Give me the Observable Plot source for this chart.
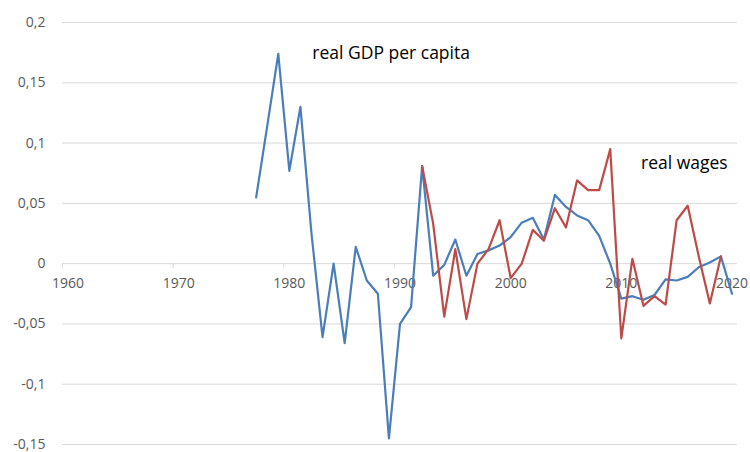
<!DOCTYPE html>
<html>
<head>
<meta charset="utf-8">
<script src="https://cdn.jsdelivr.net/npm/d3@7"></script>
<script src="https://cdn.jsdelivr.net/npm/@observablehq/plot@0.6"></script>
<style>
  html, body { margin: 0; padding: 0; background: #fff; }
  #chart { width: 750px; height: 452px; }
</style>
</head>
<body>
<div id="chart"></div>
<script>
const gdpYears = [1977,1978,1979,1980,1981,1982,1983,1984,1985,1986,1987,1988,1989,1990,1991,1992,1993,1994,1995,1996,1997,1998,1999,2000,2001,2002,2003,2004,2005,2006,2007,2008,2009,2010,2011,2012,2013,2014,2015,2016,2017,2018,2019,2020];
const gdpValues = [0.055,0.114,0.174,0.077,0.130,0.025,-0.061,0.000,-0.066,0.014,-0.014,-0.025,-0.145,-0.050,-0.036,0.081,-0.010,-0.001,0.020,-0.010,0.008,0.011,0.015,0.022,0.034,0.038,0.020,0.057,0.047,0.040,0.036,0.023,0.000,-0.029,-0.027,-0.030,-0.026,-0.013,-0.014,-0.011,-0.003,0.001,0.006,-0.025];

const wageYears = [1992,1993,1994,1995,1996,1997,1998,1999,2000,2001,2002,2003,2004,2005,2006,2007,2008,2009,2010,2011,2012,2013,2014,2015,2016,2017,2018,2019];
const wageValues = [0.081,0.033,-0.044,0.012,-0.046,0.000,0.012,0.036,-0.012,0.000,0.028,0.019,0.046,0.030,0.069,0.061,0.061,0.095,-0.062,0.004,-0.035,-0.027,-0.034,0.036,0.048,0.006,-0.033,0.006];

const yTicks = [-0.15,-0.1,-0.05,0,0.05,0.1,0.15,0.2];
const xTickLabels = [1960,1970,1980,1990,2000,2010,2020];

const labels = ["real GDP per capita", "real wages"];
const labelYears = [1989.2, 2015.7];
const labelValues = [0.1746, 0.0834];

const gdp = gdpYears.map((y, i) => ({year: y, value: gdpValues[i]}));
const wages = wageYears.map((y, i) => ({year: y, value: wageValues[i]}));
const notes = labels.map((t, i) => ({text: t, year: labelYears[i], value: labelValues[i]}));

const gridColor = "#d9d9d9";
const textColor = "#595959";

const chart = Plot.plot({
  width: 750,
  height: 452,
  marginLeft: 62,
  marginRight: 13,
  marginTop: 22,
  marginBottom: 8,
  style: {fontFamily: "'Open Sans', sans-serif", background: "#fff"},
  x: {domain: [1959.5, 2020.5], axis: null},
  y: {domain: [-0.15, 0.2]},
  marks: [
    Plot.gridY(yTicks, {stroke: gridColor, strokeOpacity: 1, strokeWidth: 1}),
    Plot.axisY(yTicks, {
      tickSize: 0, tickPadding: 17, fontSize: 14, fill: textColor,
      tickFormat: d => String(d).replace(".", ","), label: null
    }),
    Plot.ruleX(xTickLabels, {x: d => d - 0.5, y1: 0, y2: -0.004, stroke: gridColor}),
    Plot.text(xTickLabels, {x: d => d, y: 0, dy: 20, text: d => String(d), fontSize: 14, fill: textColor}),
    Plot.line(gdp, {x: "year", y: "value", stroke: "#4a7ebb", strokeWidth: 2.2}),
    Plot.line(wages, {x: "year", y: "value", stroke: "#be4b48", strokeWidth: 2.2}),
    Plot.text(notes, {x: "year", y: "value", text: "text", fontSize: 17.5, fill: "#000"})
  ]
});
document.getElementById("chart").appendChild(chart);
</script>
</body>
</html>
